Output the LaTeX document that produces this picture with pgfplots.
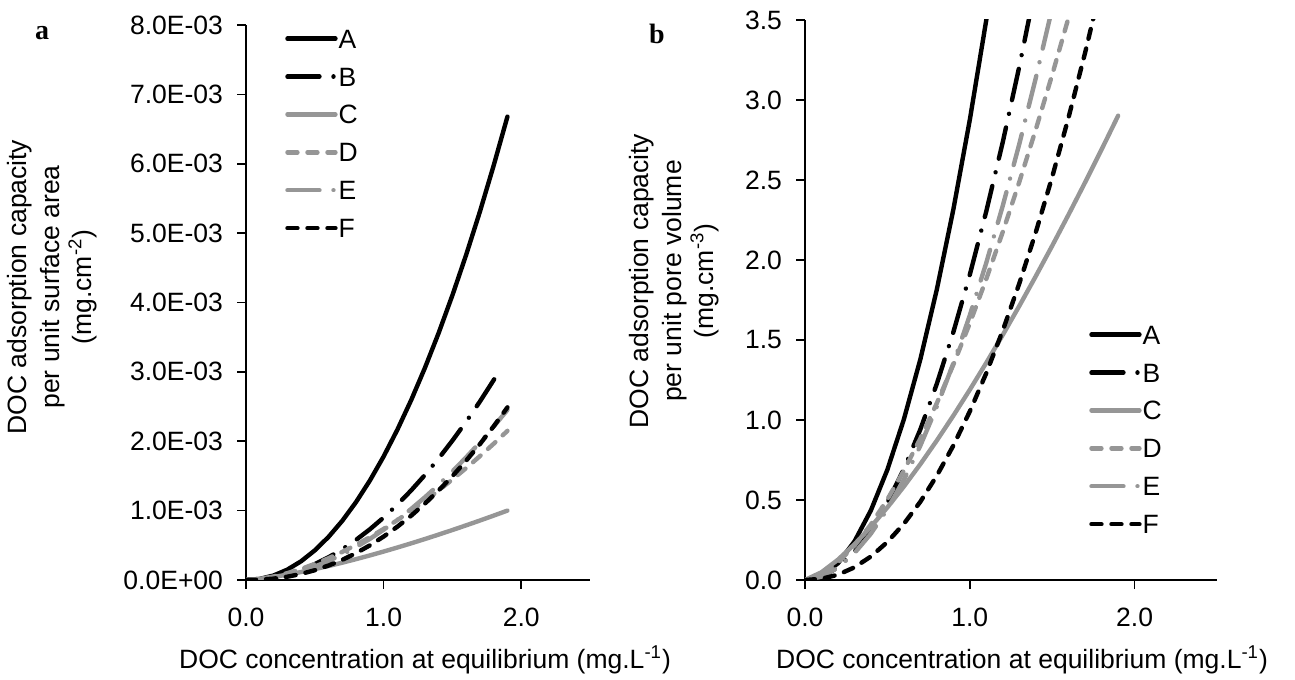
\documentclass[border=0pt]{standalone}
\usepackage{fontspec}
\setmainfont{Liberation Sans}
\newfontfamily\serifb{Liberation Serif}
\usepackage{pgfplots}
\pgfplotsset{compat=1.18}
\definecolor{gl}{RGB}{150,150,150}
\newcommand\cf{\fontsize{13.25bp}{16.25bp}\selectfont}
\tikzset{
  lA/.style={black, line width=2.2bp, line cap=round, line join=round},
  lB/.style={black, line width=2.2bp, line cap=round, line join=round, dash pattern=on 16bp off 7bp on 0.01bp off 7bp},
  lC/.style={gl, line width=2.2bp, line cap=round, line join=round},
  lD/.style={gl, line width=2.2bp, line cap=round, line join=round, dash pattern=on 5bp off 5bp},
  lE/.style={gl, line width=2.2bp, line cap=round, line join=round, dash pattern=on 16bp off 7bp on 0.01bp off 7bp},
  lF/.style={black, line width=2.2bp, line cap=round, line join=round, dash pattern=on 5bp off 5bp},
}
\pgfplotsset{myax/.style={
  scale only axis, xmin=0, xmax=2.5, ymin=0,
  axis lines=left, axis line style={-, black, line width=1bp},
  xtick={0,1,2}, xticklabels={0.0,1.0,2.0},
  tick align=outside, major tick length=4.5bp,
  tick style={black, line width=0.8bp},
  tick label style={font=\cf},
  xticklabel style={yshift=-6bp},
  yticklabel style={xshift=-3.5bp},
  scaled y ticks=false, scaled x ticks=false,
  legend cell align=left,
  legend image code/.code={\draw[##1] (0bp,0bp) -- (24bp,0bp);},
  legend style={draw=none, fill=none, inner sep=0pt, row sep=8.45bp, column sep=0bp,
    font=\cf, nodes={text height=9.5bp, text depth=0bp, inner sep=0.5bp}},
}}
\begin{document}
\begin{tikzpicture}
\useasboundingbox (0,0) rectangle (647.5bp,340bp);
% ---------------- panel a
\begin{axis}[myax, at={(123bp,50bp)}, anchor=south west, width=172bp, height=277.5bp,
  ymax=0.008, ytick={0,0.001,0.002,0.003,0.004,0.005,0.006,0.007,0.008},
  yticklabels={0.0E+00,1.0E-03,2.0E-03,3.0E-03,4.0E-03,5.0E-03,6.0E-03,7.0E-03,8.0E-03},
  legend style={at={(rel axis cs:0.113,0.995)}, anchor=north west}]
\addplot[lA] coordinates {(0,0) (0.1,0.0155e-3) (0.2,0.0646e-3) (0.3,0.149e-3) (0.4,0.2695e-3) (0.5,0.427e-3) (0.6,0.6216e-3) (0.7,0.8537e-3) (0.8,1.124e-3) (0.9,1.4325e-3) (1.0,1.78e-3) (1.1,2.166e-3) (1.2,2.591e-3) (1.3,3.056e-3) (1.4,3.560e-3) (1.5,4.104e-3) (1.6,4.687e-3) (1.7,5.310e-3) (1.8,5.975e-3) (1.9,6.679e-3)};
\addlegendentry{A}
\addplot[lB] coordinates {(0,0) (0.1,0.0094e-3) (0.2,0.0372e-3) (0.3,0.0830e-3) (0.4,0.1466e-3) (0.5,0.2282e-3) (0.6,0.3273e-3) (0.7,0.4442e-3) (0.8,0.5786e-3) (0.9,0.7305e-3) (1.0,0.90e-3) (1.1,1.087e-3) (1.2,1.291e-3) (1.3,1.513e-3) (1.4,1.752e-3) (1.5,2.009e-3) (1.6,2.282e-3) (1.7,2.573e-3) (1.8,2.882e-3) (1.83,2.978e-3)};
\addlegendentry{B}
\addplot[lC] coordinates {(0,0) (0.1,0.0167e-3) (0.2,0.0438e-3) (0.3,0.0769e-3) (0.4,0.1147e-3) (0.5,0.1565e-3) (0.6,0.2016e-3) (0.7,0.2497e-3) (0.8,0.3007e-3) (0.9,0.3541e-3) (1.0,0.41e-3) (1.1,0.4681e-3) (1.2,0.5282e-3) (1.3,0.5904e-3) (1.4,0.6545e-3) (1.5,0.7203e-3) (1.6,0.788e-3) (1.7,0.8572e-3) (1.8,0.9281e-3) (1.9,1.0006e-3)};
\addlegendentry{C}
\addplot[lD] coordinates {(0,0) (0.1,0.0157e-3) (0.2,0.0501e-3) (0.3,0.0985e-3) (0.4,0.1593e-3) (0.5,0.2313e-3) (0.6,0.3136e-3) (0.7,0.4057e-3) (0.8,0.5071e-3) (0.9,0.6172e-3) (1.0,0.736e-3) (1.1,0.863e-3) (1.2,0.9979e-3) (1.3,1.1407e-3) (1.4,1.2911e-3) (1.5,1.4487e-3) (1.6,1.6135e-3) (1.7,1.7852e-3) (1.8,1.9642e-3) (1.9,2.15e-3)};
\addlegendentry{D}
\addplot[lE] coordinates {(0,0) (0.1,0.0091e-3) (0.2,0.034e-3) (0.3,0.0735e-3) (0.4,0.1269e-3) (0.5,0.194e-3) (0.6,0.2743e-3) (0.7,0.3676e-3) (0.8,0.4739e-3) (0.9,0.5926e-3) (1.0,0.724e-3) (1.1,0.8677e-3) (1.2,1.0237e-3) (1.3,1.192e-3) (1.4,1.3722e-3) (1.5,1.5643e-3) (1.6,1.7683e-3) (1.7,1.984e-3) (1.8,2.2119e-3) (1.9,2.4514e-3)};
\addlegendentry{E}
\addplot[lF] coordinates {(0,0) (0.1,0.0044e-3) (0.2,0.0197e-3) (0.3,0.047e-3) (0.4,0.0873e-3) (0.5,0.1411e-3) (0.6,0.2088e-3) (0.7,0.2907e-3) (0.8,0.3875e-3) (0.9,0.4991e-3) (1.0,0.626e-3) (1.1,0.7684e-3) (1.2,0.9264e-3) (1.3,1.1005e-3) (1.4,1.2906e-3) (1.5,1.4968e-3) (1.6,1.7196e-3) (1.7,1.9589e-3) (1.8,2.2154e-3) (1.9,2.4886e-3)};
\addlegendentry{F}
\end{axis}
% ---------------- panel b
\begin{axis}[myax, at={(402.5bp,50bp)}, anchor=south west, width=206bp, height=280bp,
  ymax=3.5, ytick={0,0.5,1,1.5,2,2.5,3,3.5},
  yticklabels={0.0,0.5,1.0,1.5,2.0,2.5,3.0,3.5},
  legend style={at={(rel axis cs:0.689,0.4575)}, anchor=north west}]
\addplot[lA] coordinates {(0,0) (0.1,0.025) (0.2,0.1044) (0.3,0.2408) (0.4,0.4355) (0.5,0.69) (0.6,1.0045) (0.7,1.3796) (0.8,1.8164) (0.9,2.3149) (1.0,2.876) (1.1,3.5) (1.2,4.187)};
\addlegendentry{A}
\addplot[lB] coordinates {(0,0) (0.1,0.02) (0.2,0.0789) (0.3,0.176) (0.4,0.3108) (0.5,0.4838) (0.6,0.6939) (0.7,0.9417) (0.8,1.2266) (0.9,1.5487) (1.0,1.908) (1.1,2.3044) (1.2,2.7369) (1.3,3.2076) (1.4,3.7142)};
\addlegendentry{B}
\addplot[lC] coordinates {(0,0) (0.1,0.0484) (0.2,0.127) (0.3,0.223) (0.4,0.3326) (0.5,0.4539) (0.6,0.5846) (0.7,0.7241) (0.8,0.872) (0.9,1.0269) (1.0,1.189) (1.1,1.3575) (1.2,1.5318) (1.3,1.7122) (1.4,1.8981) (1.5,2.0889) (1.6,2.2852) (1.7,2.4859) (1.8,2.6915) (1.9,2.9017)};
\addlegendentry{C}
\addplot[lD] coordinates {(0,0) (0.1,0.0343) (0.2,0.1092) (0.3,0.2147) (0.4,0.3473) (0.5,0.5042) (0.6,0.6836) (0.7,0.8844) (0.8,1.1055) (0.9,1.3455) (1.0,1.6045) (1.1,1.8813) (1.2,2.1754) (1.3,2.4867) (1.4,2.8146) (1.5,3.1582) (1.6,3.5174) (1.7,3.8917)};
\addlegendentry{D}
\addplot[lE] coordinates {(0,0) (0.1,0.0208) (0.2,0.0777) (0.3,0.1679) (0.4,0.29) (0.5,0.4433) (0.6,0.6268) (0.7,0.84) (0.8,1.0829) (0.9,1.3541) (1.0,1.6543) (1.1,1.9827) (1.2,2.3392) (1.3,2.7237) (1.4,3.1355) (1.5,3.5744) (1.6,4.0406)};
\addlegendentry{E}
\addplot[lF] coordinates {(0,0) (0.1,0.0075) (0.2,0.0331) (0.3,0.0791) (0.4,0.1469) (0.5,0.2375) (0.6,0.3514) (0.7,0.4893) (0.8,0.6522) (0.9,0.84) (1.0,1.0536) (1.1,1.2932) (1.2,1.5591) (1.3,1.8521) (1.4,2.1721) (1.5,2.5191) (1.6,2.8941) (1.7,3.2968) (1.8,3.7285)};
\addlegendentry{F}
\end{axis}
% ---------------- labels
\node[font=\serifb\bfseries\fontsize{14bp}{16bp}\selectfont] at (21bp,323.5bp) {a};
\node[font=\serifb\bfseries\fontsize{14bp}{16bp}\selectfont] at (328.5bp,323bp) {b};
\node[font=\cf, rotate=90, align=center] at (26.25bp,196.5bp) {DOC adsorption capacity\\per unit surface area\\(mg.cm\textsuperscript{-2})};
\node[font=\cf, rotate=90, align=center] at (337.25bp,199.5bp) {DOC adsorption capacity\\per unit pore volume\\(mg.cm\textsuperscript{-3})};
\node[font=\cf] at (212.5bp,10bp) {DOC concentration at equilibrium (mg.L\textsuperscript{-1})};
\node[font=\cf] at (511bp,10bp) {DOC concentration at equilibrium (mg.L\textsuperscript{-1})};
\end{tikzpicture}
\end{document}
